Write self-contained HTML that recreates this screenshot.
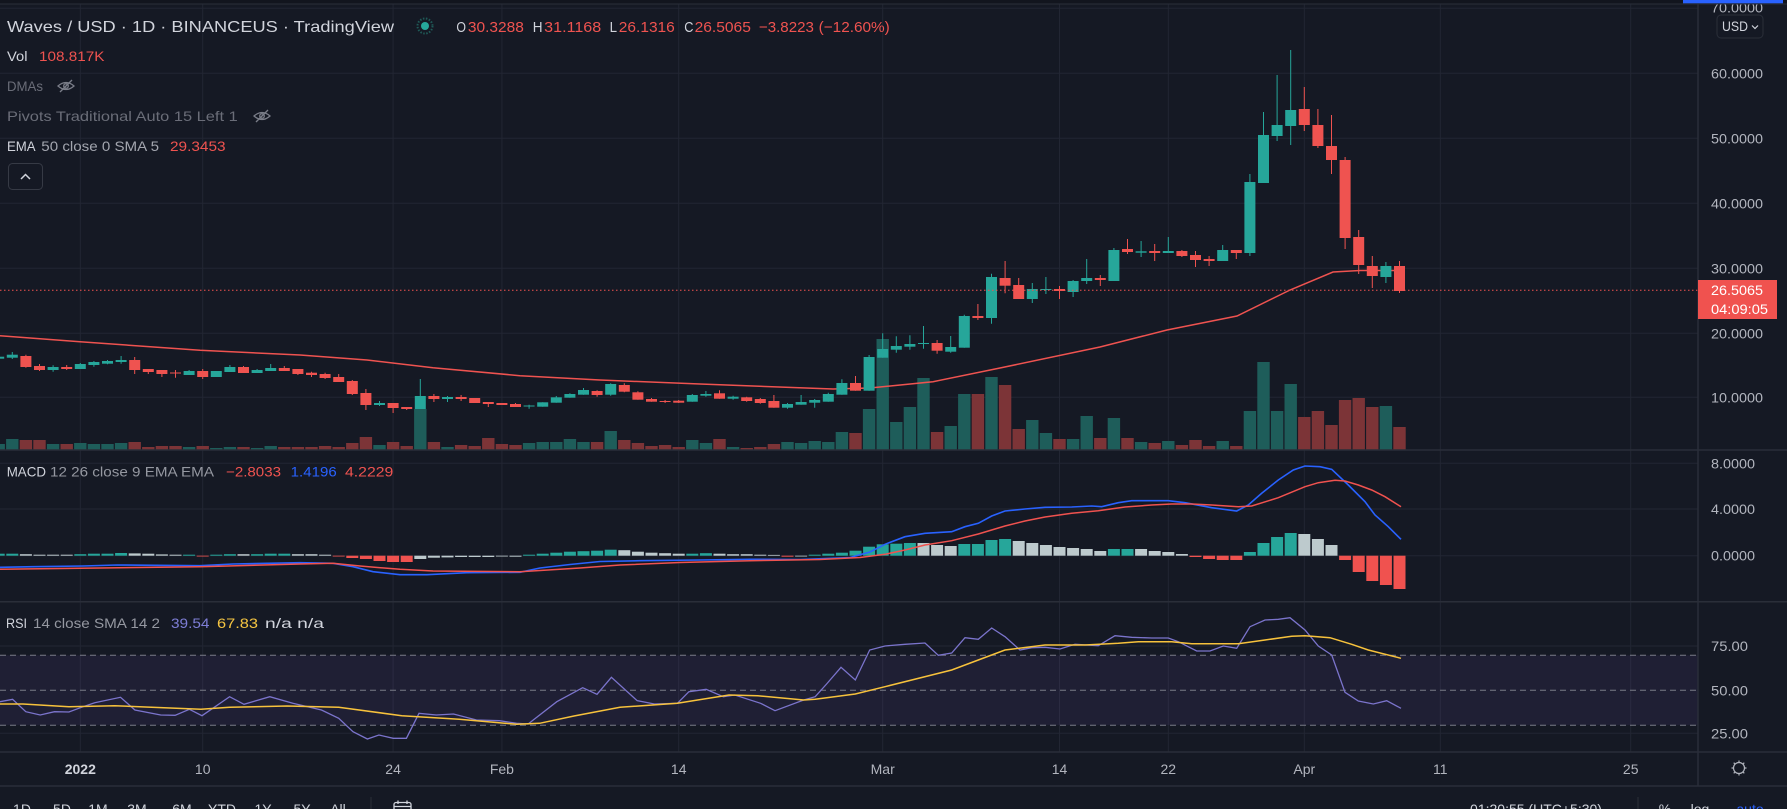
<!DOCTYPE html>
<html><head><meta charset="utf-8"><style>
html,body{margin:0;padding:0;background:#151924;overflow:hidden;}
svg{display:block;font-family:"Liberation Sans",sans-serif;}
</style></head><body>
<svg width="1787" height="809" viewBox="0 0 1787 809" xmlns="http://www.w3.org/2000/svg">
<rect x="0" y="0" width="1787" height="809" fill="#151924"/>
<!-- grid -->
<g stroke="#222633" stroke-width="1">
<path d="M0 8.3H1698M0 73.3H1698M0 138.3H1698M0 203.3H1698M0 268.3H1698M0 333.3H1698M0 397.3H1698M0 463.3H1698M0 509H1698M0 555.7H1698M0 646H1698M0 733.3H1698"/>
<path d="M80.3 4V752M202.7 4V752M393.1 4V752M501.9 4V752M678.7 4V752M882.7 4V752M1059.5 4V752M1168.3 4V752M1304.3 4V752M1440.3 4V752M1630.7 4V752"/>
</g>
<!-- RSI band -->
<rect x="0" y="655.3" width="1698" height="69.9" fill="#7e57c2" fill-opacity="0.1"/>
<g stroke="#787b86" stroke-width="1" stroke-dasharray="6 4" fill="none">
<path d="M0 655.3H1698M0 690.3H1698M0 725.2H1698"/>
</g>
<!-- volume -->
<g transform="translate(-1.3,0) scale(13.6,1) translate(-0.456,0)">
<g fill="#1e5d5a">
<rect x="0" y="444" width=".912" height="6"/><rect x="1" y="439" width=".912" height="11"/><rect x="4" y="444" width=".912" height="6"/><rect x="6" y="443" width=".912" height="7"/><rect x="7" y="444" width=".912" height="6"/><rect x="8" y="444" width=".912" height="6"/><rect x="9" y="443" width=".912" height="7"/><rect x="14" y="447" width=".912" height="3"/><rect x="16" y="448" width=".912" height="2"/><rect x="17" y="447" width=".912" height="3"/><rect x="19" y="448" width=".912" height="2"/><rect x="20" y="446" width=".912" height="4"/><rect x="28" y="445" width=".912" height="5"/><rect x="31" y="409" width=".912" height="41"/><rect x="33" y="447" width=".912" height="3"/><rect x="39" y="443" width=".912" height="7"/><rect x="40" y="442" width=".912" height="8"/><rect x="41" y="442" width=".912" height="8"/><rect x="42" y="439" width=".912" height="11"/><rect x="43" y="442" width=".912" height="8"/><rect x="45" y="431" width=".912" height="19"/><rect x="51" y="440" width=".912" height="10"/><rect x="52" y="443" width=".912" height="7"/><rect x="54" y="447" width=".912" height="3"/><rect x="58" y="442" width=".912" height="8"/><rect x="59" y="443" width=".912" height="7"/><rect x="60" y="441" width=".912" height="9"/><rect x="61" y="442" width=".912" height="8"/><rect x="62" y="432" width=".912" height="18"/><rect x="64" y="409" width=".912" height="41"/><rect x="65" y="339" width=".912" height="111"/><rect x="66" y="422" width=".912" height="28"/><rect x="67" y="407" width=".912" height="43"/><rect x="68" y="378" width=".912" height="72"/><rect x="70" y="426" width=".912" height="24"/><rect x="71" y="394" width=".912" height="56"/><rect x="73" y="377" width=".912" height="73"/><rect x="76" y="420" width=".912" height="30"/><rect x="77" y="433" width=".912" height="17"/><rect x="79" y="439" width=".912" height="11"/><rect x="80" y="416" width=".912" height="34"/><rect x="82" y="418" width=".912" height="32"/><rect x="84" y="442" width=".912" height="8"/><rect x="86" y="441" width=".912" height="9"/><rect x="90" y="441" width=".912" height="9"/><rect x="92" y="411" width=".912" height="39"/><rect x="93" y="362" width=".912" height="88"/><rect x="94" y="411" width=".912" height="39"/><rect x="95" y="384" width=".912" height="66"/><rect x="102" y="406" width=".912" height="44"/>
</g>
<g fill="#7c3437">
<rect x="2" y="440" width=".912" height="10"/><rect x="3" y="440" width=".912" height="10"/><rect x="5" y="444" width=".912" height="6"/><rect x="10" y="442" width=".912" height="8"/><rect x="11" y="447" width=".912" height="3"/><rect x="12" y="446" width=".912" height="4"/><rect x="13" y="446" width=".912" height="4"/><rect x="15" y="446" width=".912" height="4"/><rect x="18" y="447" width=".912" height="3"/><rect x="21" y="447" width=".912" height="3"/><rect x="22" y="447" width=".912" height="3"/><rect x="23" y="447" width=".912" height="3"/><rect x="24" y="446" width=".912" height="4"/><rect x="25" y="447" width=".912" height="3"/><rect x="26" y="443" width=".912" height="7"/><rect x="27" y="437" width=".912" height="13"/><rect x="29" y="442" width=".912" height="8"/><rect x="30" y="446" width=".912" height="4"/><rect x="32" y="442" width=".912" height="8"/><rect x="34" y="445" width=".912" height="5"/><rect x="35" y="446" width=".912" height="4"/><rect x="36" y="438" width=".912" height="12"/><rect x="37" y="444" width=".912" height="6"/><rect x="38" y="445" width=".912" height="5"/><rect x="44" y="442" width=".912" height="8"/><rect x="46" y="440" width=".912" height="10"/><rect x="47" y="443" width=".912" height="7"/><rect x="48" y="446" width=".912" height="4"/><rect x="49" y="445" width=".912" height="5"/><rect x="50" y="447" width=".912" height="3"/><rect x="53" y="439" width=".912" height="11"/><rect x="55" y="448" width=".912" height="2"/><rect x="56" y="447" width=".912" height="3"/><rect x="57" y="444" width=".912" height="6"/><rect x="63" y="433" width=".912" height="17"/><rect x="69" y="432" width=".912" height="18"/><rect x="72" y="394" width=".912" height="56"/><rect x="74" y="385" width=".912" height="65"/><rect x="75" y="429" width=".912" height="21"/><rect x="78" y="439" width=".912" height="11"/><rect x="81" y="438" width=".912" height="12"/><rect x="83" y="438" width=".912" height="12"/><rect x="85" y="443" width=".912" height="7"/><rect x="87" y="445" width=".912" height="5"/><rect x="88" y="440" width=".912" height="10"/><rect x="89" y="446" width=".912" height="4"/><rect x="91" y="446" width=".912" height="4"/><rect x="96" y="417" width=".912" height="33"/><rect x="97" y="411" width=".912" height="39"/><rect x="98" y="425" width=".912" height="25"/><rect x="99" y="400" width=".912" height="50"/><rect x="100" y="398" width=".912" height="52"/><rect x="101" y="407" width=".912" height="43"/><rect x="103" y="427" width=".912" height="23"/>
</g>
</g>
<!-- EMA -->
<polyline fill="none" stroke="#ef5350" stroke-width="1.5" points="0,335.7 80,341.7 200,350.3 300,355 367,360 433,367.7 520,375.7 600,380 700,384 833,389 870,388 933,381.7 1000,368 1100,347 1167,330 1237,316 1290,290 1333,272 1360,270.5 1405,270.5"/>
<!-- wicks -->
<g transform="translate(-1.3,0) scale(13.6,1)" fill="none" stroke-width="1">
<path vector-effect="non-scaling-stroke" stroke="#26a69a" d="M0 356V359M1 352V359M4 365.3V371.7M6 363V369M7 361V366.7M8 360V364.3M9 356V363.7M14 370V375M16 371V377M17 365V372M19 369V373M20 364V371M28 401V406M31 379V409M33 396V402M39 404.7V408.7M40 402.3V406.7M41 396V402.7M42 393.3V397.7M43 388V394.7M45 383.3V395.7M51 394V401.7M52 391V396.7M54 395.7V399.7M58 403V408.7M59 395V404.7M60 399V407.7M61 392.7V401.7M62 379.3V394.7M64 355V390.7M65 333.3V357.7M66 336.3V352.7M67 335.3V349.7M68 326V348.7M70 336V352.7M71 314.7V347.7M73 273.7V323.7M76 283V303M77 277V294M79 280V297M80 259V284M82 248V281M84 241V257M86 237V253M90 245V261M92 174V256M93 112V183M94 75V141M95 50V145M102 262V283"/>
<path vector-effect="non-scaling-stroke" stroke="#ef5350" d="M2 354.7V367.7M3 364V371M5 365V370M10 357V374M11 369V374M12 370V377M13 370V377.7M15 369V379M18 366V373M21 366V371M22 369V375M23 371.7V377M24 372.7V379M25 374V382M26 380V395M27 389V410M29 403V413M30 407V410M32 394V402M34 395V401M35 398V403M36 402V407M37 403V405M38 403V407M44 390.3V396.7M46 383.3V392.3M47 391.3V399.7M48 398V401.7M49 400V403M50 400V403M53 390.3V398.7M55 396.7V401.7M56 398V403.7M57 395V407.7M63 376V390.7M69 340V353.7M72 304V320M74 261V293.3M75 278V299M78 286V299M81 275V286M83 239V254M85 244V261M87 250V257M88 251V267M89 256V266M91 250V259M96 87V131M97 109V148M98 115V174M99 157V249M100 230V274M101 256V288M103 261V293"/>
</g>
<!-- bodies -->
<g transform="translate(-1.3,0) scale(13.6,1) translate(-0.4045,0)">
<g fill="#26a69a">
<rect x="0" y="356.7" width=".809" height="2"/><rect x="1" y="354.7" width=".809" height="3"/><rect x="4" y="367" width=".809" height="3"/><rect x="6" y="364" width=".809" height="5"/><rect x="7" y="362" width=".809" height="3"/><rect x="8" y="361" width=".809" height="2.7"/><rect x="9" y="360" width=".809" height="2"/><rect x="14" y="371" width=".809" height="4"/><rect x="16" y="371" width=".809" height="6"/><rect x="17" y="367" width=".809" height="5"/><rect x="19" y="370" width=".809" height="3"/><rect x="20" y="368" width=".809" height="3"/><rect x="28" y="403" width=".809" height="2"/><rect x="31" y="396" width=".809" height="13"/><rect x="33" y="397" width=".809" height="2"/><rect x="39" y="405.5" width=".809" height="1"/><rect x="40" y="402.3" width=".809" height="4.4"/><rect x="41" y="397.3" width=".809" height="5.4"/><rect x="42" y="394" width=".809" height="3.7"/><rect x="43" y="390" width=".809" height="4.7"/><rect x="45" y="384" width=".809" height="10.7"/><rect x="51" y="395" width=".809" height="6.7"/><rect x="52" y="394" width=".809" height="1.7"/><rect x="54" y="396.7" width=".809" height="2"/><rect x="58" y="404" width=".809" height="3.7"/><rect x="59" y="402" width=".809" height="2.7"/><rect x="60" y="400" width=".809" height="2.7"/><rect x="61" y="394" width=".809" height="7.7"/><rect x="62" y="383" width=".809" height="11.7"/><rect x="64" y="357" width=".809" height="33.7"/><rect x="65" y="349" width=".809" height="8.7"/><rect x="66" y="346" width=".809" height="3.7"/><rect x="67" y="344" width=".809" height="2.7"/><rect x="68" y="343" width=".809" height="1"/><rect x="70" y="347" width=".809" height="4.7"/><rect x="71" y="316" width=".809" height="31.7"/><rect x="73" y="277" width=".809" height="41"/><rect x="76" y="289" width=".809" height="10"/><rect x="77" y="289" width=".809" height="1"/><rect x="79" y="281" width=".809" height="11"/><rect x="80" y="278" width=".809" height="3"/><rect x="82" y="250" width=".809" height="31"/><rect x="84" y="251.3" width=".809" height="1.4"/><rect x="86" y="251" width=".809" height="2"/><rect x="90" y="250" width=".809" height="11"/><rect x="92" y="182" width=".809" height="71"/><rect x="93" y="135" width=".809" height="48"/><rect x="94" y="125" width=".809" height="11"/><rect x="95" y="110" width=".809" height="16"/><rect x="102" y="266" width=".809" height="11"/>
</g>
<g fill="#ef5350">
<rect x="2" y="356" width=".809" height="11"/><rect x="3" y="366" width=".809" height="4"/><rect x="5" y="367" width=".809" height="2"/><rect x="10" y="360" width=".809" height="10"/><rect x="11" y="369" width=".809" height="3"/><rect x="12" y="370" width=".809" height="4"/><rect x="13" y="372.5" width=".809" height="1"/><rect x="15" y="371" width=".809" height="6"/><rect x="18" y="367" width=".809" height="6"/><rect x="21" y="368" width=".809" height="3"/><rect x="22" y="369" width=".809" height="5"/><rect x="23" y="372.7" width=".809" height="2.3"/><rect x="24" y="374" width=".809" height="4"/><rect x="25" y="377" width=".809" height="5"/><rect x="26" y="381" width=".809" height="13"/><rect x="27" y="393" width=".809" height="12"/><rect x="29" y="403" width=".809" height="5"/><rect x="30" y="407" width=".809" height="2"/><rect x="32" y="396" width=".809" height="3"/><rect x="34" y="397" width=".809" height="2"/><rect x="35" y="398" width=".809" height="5"/><rect x="36" y="402" width=".809" height="2"/><rect x="37" y="403" width=".809" height="2"/><rect x="38" y="404" width=".809" height="3"/><rect x="44" y="391" width=".809" height="4"/><rect x="46" y="385" width=".809" height="6.7"/><rect x="47" y="392.3" width=".809" height="7.4"/><rect x="48" y="399" width=".809" height="2.7"/><rect x="49" y="401" width=".809" height="1"/><rect x="50" y="400.7" width=".809" height="2"/><rect x="53" y="393.3" width=".809" height="5.4"/><rect x="55" y="397.3" width=".809" height="3.7"/><rect x="56" y="399" width=".809" height="4"/><rect x="57" y="401" width=".809" height="6.7"/><rect x="63" y="383" width=".809" height="7.7"/><rect x="69" y="343" width=".809" height="7.7"/><rect x="72" y="316" width=".809" height="2"/><rect x="74" y="278" width=".809" height="7.7"/><rect x="75" y="285" width=".809" height="14"/><rect x="78" y="289" width=".809" height="2"/><rect x="81" y="278" width=".809" height="2"/><rect x="83" y="249" width=".809" height="3"/><rect x="85" y="251" width=".809" height="2"/><rect x="87" y="251" width=".809" height="5"/><rect x="88" y="255" width=".809" height="5"/><rect x="89" y="259" width=".809" height="2"/><rect x="91" y="250" width=".809" height="3"/><rect x="96" y="109" width=".809" height="16"/><rect x="97" y="125" width=".809" height="21"/><rect x="98" y="146" width=".809" height="14"/><rect x="99" y="160" width=".809" height="78"/><rect x="100" y="237" width=".809" height="28"/><rect x="101" y="266" width=".809" height="10"/><rect x="103" y="266" width=".809" height="25"/>
</g>
</g>
<!-- price line -->
<path d="M0 290.3H1698" stroke="#ef5350" stroke-width="1" stroke-dasharray="1.5 2.5"/>
<!-- MACD histogram -->
<g transform="translate(-1.3,0) scale(13.6,1) translate(-0.441,0)">
<g fill="#26a69a">
<rect x="0" y="553.7" width=".882" height="2"/><rect x="1" y="553.7" width=".882" height="2"/><rect x="6" y="554.2" width=".882" height="1.5"/><rect x="7" y="553.7" width=".882" height="2"/><rect x="8" y="553.7" width=".882" height="2"/><rect x="9" y="553" width=".882" height="2.7"/><rect x="14" y="554.7" width=".882" height="1"/><rect x="16" y="554.7" width=".882" height="1"/><rect x="17" y="554.2" width=".882" height="1.5"/><rect x="19" y="554.2" width=".882" height="1.5"/><rect x="20" y="553.7" width=".882" height="2"/><rect x="21" y="553.7" width=".882" height="2"/><rect x="39" y="554.7" width=".882" height="1"/><rect x="40" y="553.7" width=".882" height="2"/><rect x="41" y="552.7" width=".882" height="3"/><rect x="42" y="551.7" width=".882" height="4"/><rect x="43" y="551.2" width=".882" height="4.5"/><rect x="44" y="550.7" width=".882" height="5"/><rect x="45" y="549.7" width=".882" height="6"/><rect x="51" y="553.7" width=".882" height="2"/><rect x="52" y="553.2" width=".882" height="2.5"/><rect x="60" y="554.7" width=".882" height="1"/><rect x="61" y="553.7" width=".882" height="2"/><rect x="62" y="552.7" width=".882" height="3"/><rect x="63" y="550.7" width=".882" height="5"/><rect x="64" y="546.7" width=".882" height="9"/><rect x="65" y="544.3" width=".882" height="11.4"/><rect x="66" y="543.7" width=".882" height="12"/><rect x="67" y="543" width=".882" height="12.7"/><rect x="71" y="544" width=".882" height="11.7"/><rect x="72" y="544" width=".882" height="11.7"/><rect x="73" y="540" width=".882" height="15.7"/><rect x="74" y="539" width=".882" height="16.7"/><rect x="82" y="549" width=".882" height="6.7"/><rect x="83" y="549" width=".882" height="6.7"/><rect x="92" y="552" width=".882" height="3.7"/><rect x="93" y="543" width=".882" height="12.7"/><rect x="94" y="537" width=".882" height="18.7"/><rect x="95" y="533" width=".882" height="22.7"/>
</g>
<g fill="#bdcacd">
<rect x="2" y="554.2" width=".882" height="1.5"/><rect x="3" y="554.7" width=".882" height="1"/><rect x="4" y="554.7" width=".882" height="1"/><rect x="5" y="554.7" width=".882" height="1"/><rect x="10" y="553.4" width=".882" height="2.3"/><rect x="11" y="553.7" width=".882" height="2"/><rect x="12" y="554.4" width=".882" height="1.3"/><rect x="13" y="554.7" width=".882" height="1"/><rect x="18" y="554.2" width=".882" height="1.5"/><rect x="22" y="554.2" width=".882" height="1.5"/><rect x="23" y="554.2" width=".882" height="1.5"/><rect x="24" y="554.7" width=".882" height="1"/><rect x="46" y="550.2" width=".882" height="5.5"/><rect x="47" y="551.7" width=".882" height="4"/><rect x="48" y="552.7" width=".882" height="3"/><rect x="49" y="553.2" width=".882" height="2.5"/><rect x="50" y="553.7" width=".882" height="2"/><rect x="53" y="553.7" width=".882" height="2"/><rect x="54" y="554.2" width=".882" height="1.5"/><rect x="55" y="554.2" width=".882" height="1.5"/><rect x="56" y="554.7" width=".882" height="1"/><rect x="57" y="554.9" width=".882" height=".8"/><rect x="68" y="543" width=".882" height="12.7"/><rect x="69" y="545" width=".882" height="10.7"/><rect x="70" y="546" width=".882" height="9.7"/><rect x="75" y="541" width=".882" height="14.7"/><rect x="76" y="543" width=".882" height="12.7"/><rect x="77" y="545" width=".882" height="10.7"/><rect x="78" y="547" width=".882" height="8.7"/><rect x="79" y="548" width=".882" height="7.7"/><rect x="80" y="549" width=".882" height="6.7"/><rect x="81" y="551" width=".882" height="4.7"/><rect x="84" y="549" width=".882" height="6.7"/><rect x="85" y="551" width=".882" height="4.7"/><rect x="86" y="552" width=".882" height="3.7"/><rect x="87" y="554" width=".882" height="1.7"/><rect x="96" y="534" width=".882" height="21.7"/><rect x="97" y="539" width=".882" height="16.7"/><rect x="98" y="545" width=".882" height="10.7"/>
<rect x="31" y="555.7" width=".882" height="3.3"/><rect x="32" y="555.7" width=".882" height="2"/><rect x="33" y="555.7" width=".882" height="1.7"/><rect x="34" y="555.7" width=".882" height="1.3"/><rect x="35" y="555.7" width=".882" height="1.3"/><rect x="36" y="555.7" width=".882" height="1.3"/><rect x="37" y="555.7" width=".882" height=".8"/><rect x="38" y="555.7" width=".882" height="1"/><rect x="59" y="555.7" width=".882" height=".8"/>
</g>
<g fill="#f0524f">
<rect x="15" y="555.7" width=".882" height=".8"/><rect x="25" y="555.7" width=".882" height=".8"/><rect x="26" y="555.7" width=".882" height="2.3"/><rect x="27" y="555.7" width=".882" height="3.3"/><rect x="28" y="555.7" width=".882" height="5.3"/><rect x="29" y="555.7" width=".882" height="6.3"/><rect x="30" y="555.7" width=".882" height="6.3"/><rect x="58" y="555.7" width=".882" height="1"/><rect x="88" y="555.7" width=".882" height="1.3"/><rect x="89" y="555.7" width=".882" height="3.3"/><rect x="90" y="555.7" width=".882" height="4.3"/><rect x="91" y="555.7" width=".882" height="4.3"/><rect x="99" y="555.7" width=".882" height="4.3"/><rect x="100" y="555.7" width=".882" height="16.3"/><rect x="101" y="555.7" width=".882" height="25.3"/><rect x="102" y="555.7" width=".882" height="29.3"/><rect x="103" y="555.7" width=".882" height="33.3"/>
</g>
</g>
<!-- MACD lines -->
<polyline fill="none" stroke="#2962ff" stroke-width="1.6" points="0,567.3 33,566.7 83,566 117,565 200,565.7 233,564 300,562.7 333,563.3 353,566.7 373,571.7 400,574.7 427,574.7 467,572.7 520,572.3 540,568 570,564.5 600,561.5 640,560.7 700,560 750,559.3 800,559.5 850,557.5 870,552 885,544.3 905,536.7 925,533.3 951.7,531.7 965,526.7 978.3,523.3 991.7,516 1005,511 1025,509 1045,507.3 1071.7,507 1091.7,506 1101.7,506.7 1118.3,502.7 1131.7,500.7 1151.7,500.7 1168.3,500.7 1185,502.7 1211.7,507.7 1236.7,511 1248.3,505 1261.7,493.3 1278.3,480 1293.3,470 1305,466 1320,466.7 1331.7,469.3 1348.3,485 1365,501.7 1375,515 1388.3,526.7 1401,539.3"/>
<polyline fill="none" stroke="#f0524f" stroke-width="1.5" points="0,569.3 100,568 200,566.7 300,564 333,563.3 360,566 400,569.3 433,571 520,571.7 540,570.5 580,568 620,565 680,562.5 750,560.7 820,559.5 860,557.5 885,554.3 905,550 925,545 951.7,540.7 978.3,534 1005,526 1025,521 1045,517 1071.7,513.3 1098.3,510.7 1125,507 1151.7,505 1171.7,504 1191.7,504 1211.7,505 1238.3,506.7 1251.7,506 1278.3,497.7 1305,486.7 1318.3,482.7 1335,480.3 1345,481 1358.3,485 1371.7,490 1385,496.7 1401,506.7"/>
<!-- RSI lines -->
<polyline fill="none" stroke="#7b74cc" stroke-width="1.3" points="0,701.7 12.6,699.3 25.8,711.7 40.2,715 54.5,711.7 68.9,712 83.2,706.7 94.7,702.7 120.5,697.3 134.9,710 160.7,715 175.1,715.3 189.4,709.3 202,715.7 229.6,696.7 244,704.3 269.8,696.7 292.8,703.3 321.5,710 338.7,718.3 353,731.7 367.4,739 378.9,735 393.2,738.3 406.4,738.3 419,713.3 436.3,715 453.5,714 476.5,720 499.4,720.7 516.6,723.3 528.1,724 556.8,701.7 582.7,687.7 597,694.3 611.4,677.3 637.2,700.7 654.4,704 677.4,703.3 688.9,691.7 706.1,689.3 723.3,696.7 734.8,695 760.6,703.3 775,710.7 803.7,700 815.2,696.7 826.6,684 841,667.3 855.3,680 869.7,650 885,646 905,644.3 925,643 938.3,655.3 951.7,653 965,637.7 978.3,639.3 991.7,628 1005,636.7 1020,650 1031.7,647.7 1045,647.3 1060,649 1075,644.3 1098.3,645.7 1115,635.7 1131.7,637.3 1151.7,638 1168.3,638 1178.3,641.7 1196.7,651 1210,651 1223.3,646 1236.7,648.3 1250,626.7 1265,620 1278.3,619.3 1290,617.7 1305,630 1318.3,646 1331.7,655 1345,692.3 1358.3,701 1373.3,704 1386.7,700.7 1401,708.3"/>
<polyline fill="none" stroke="#f7c23c" stroke-width="1.5" points="0,704 23,704 68.9,706.7 114.8,705.7 200.9,709.3 229.6,707.3 287,706 338.7,707.3 401.8,715.7 459.2,719.3 516.6,724.3 539.6,723.3 574,716 620,707.3 677.4,703.3 729,695 757.7,695.7 803.7,700 815.2,699.3 855.3,694 885,686.7 951.7,670 978.3,660 1005,650 1045,645 1085,645 1118.3,643.3 1138.3,641.7 1171.7,641.7 1191.7,643.7 1238.3,643.7 1265,640 1291.7,636.3 1305,635.7 1330,637.7 1351.7,644.3 1368.3,650 1401,658.3"/>
<!-- separators -->
<g stroke="#2a2e39" stroke-width="1.5">
<path d="M0 450H1787M0 601.7H1787M0 752H1787M0 786H1787M1698 4V786"/>
</g>
<!-- price axis labels -->
<g font-size="14" fill="#b2b5be">
<text x="1711" y="12.5" textLength="52" lengthAdjust="spacingAndGlyphs">70.0000</text>
<text x="1711" y="78.3" textLength="52" lengthAdjust="spacingAndGlyphs">60.0000</text>
<text x="1711" y="143.3" textLength="52" lengthAdjust="spacingAndGlyphs">50.0000</text>
<text x="1711" y="208.3" textLength="52" lengthAdjust="spacingAndGlyphs">40.0000</text>
<text x="1711" y="273.3" textLength="52" lengthAdjust="spacingAndGlyphs">30.0000</text>
<text x="1711" y="338.3" textLength="52" lengthAdjust="spacingAndGlyphs">20.0000</text>
<text x="1711" y="402.3" textLength="52" lengthAdjust="spacingAndGlyphs">10.0000</text>
<text x="1711" y="468.3" textLength="44" lengthAdjust="spacingAndGlyphs">8.0000</text>
<text x="1711" y="514" textLength="44" lengthAdjust="spacingAndGlyphs">4.0000</text>
<text x="1711" y="560.7" textLength="44" lengthAdjust="spacingAndGlyphs">0.0000</text>
<text x="1711" y="651" textLength="37" lengthAdjust="spacingAndGlyphs">75.00</text>
<text x="1711" y="695.3" textLength="37" lengthAdjust="spacingAndGlyphs">50.00</text>
<text x="1711" y="738.3" textLength="37" lengthAdjust="spacingAndGlyphs">25.00</text>
</g>
<!-- current price label -->
<rect x="1698" y="280" width="79" height="39" fill="#f0524f"/>
<text x="1711" y="295" font-size="14" fill="#ffffff" textLength="52" lengthAdjust="spacingAndGlyphs">26.5065</text>
<text x="1711" y="314" font-size="14" fill="#ffffff" textLength="57" lengthAdjust="spacingAndGlyphs">04:09:05</text>
<!-- USD button -->
<rect x="1717" y="15" width="46" height="23" rx="4" fill="#151924" stroke="#2a2e39" stroke-width="1"/>
<text x="1722" y="31" font-size="14" fill="#d1d4dc" textLength="26" lengthAdjust="spacingAndGlyphs">USD</text>
<path d="M1752 25.5L1755 28.5L1758 25.5" fill="none" stroke="#d1d4dc" stroke-width="1.2"/>
<!-- top strip -->
<rect x="0" y="0" width="1787" height="3.5" fill="#12151e"/>
<path d="M0 4H1787" stroke="#2a2e39" stroke-width="1"/>
<rect x="1683" y="0" width="100" height="3.3" fill="#2962ff"/>
<!-- header legend -->
<text x="7" y="32" font-size="16" fill="#d1d4dc" textLength="387" lengthAdjust="spacingAndGlyphs">Waves / USD · 1D · BINANCEUS · TradingView</text>
<circle cx="425" cy="26" r="7.5" fill="none" stroke="#1f5a57" stroke-width="2" stroke-dasharray="1.5 1.5"/>
<circle cx="425" cy="26" r="4" fill="#26a69a"/>
<g font-size="15">
<text x="456.4" y="32" fill="#d1d4dc" textLength="9.6" lengthAdjust="spacingAndGlyphs">O</text>
<text x="467.9" y="32" fill="#ef5350" textLength="56" lengthAdjust="spacingAndGlyphs">30.3288</text>
<text x="532.7" y="32" fill="#d1d4dc" textLength="9.8" lengthAdjust="spacingAndGlyphs">H</text>
<text x="544.2" y="32" fill="#ef5350" textLength="57" lengthAdjust="spacingAndGlyphs">31.1168</text>
<text x="609.6" y="32" fill="#d1d4dc" textLength="7.4" lengthAdjust="spacingAndGlyphs">L</text>
<text x="618.8" y="32" fill="#ef5350" textLength="56" lengthAdjust="spacingAndGlyphs">26.1316</text>
<text x="684.3" y="32" fill="#d1d4dc" textLength="9.2" lengthAdjust="spacingAndGlyphs">C</text>
<text x="694.6" y="32" fill="#ef5350" textLength="56.3" lengthAdjust="spacingAndGlyphs">26.5065</text>
<text x="758.9" y="32" fill="#ef5350" textLength="55" lengthAdjust="spacingAndGlyphs">−3.8223</text>
<text x="818.6" y="32" fill="#ef5350" textLength="71.2" lengthAdjust="spacingAndGlyphs">(−12.60%)</text>
</g>
<g font-size="14">
<text x="7" y="61" fill="#d1d4dc" textLength="20.5" lengthAdjust="spacingAndGlyphs">Vol</text>
<text x="39" y="61" fill="#ef5350" textLength="65.5" lengthAdjust="spacingAndGlyphs">108.817K</text>
<text x="7" y="91" fill="#6a6d78" textLength="36" lengthAdjust="spacingAndGlyphs">DMAs</text>
<text x="7" y="121" fill="#6a6d78" textLength="230.7" lengthAdjust="spacingAndGlyphs">Pivots Traditional Auto 15 Left 1</text>
<text x="7" y="151" fill="#d1d4dc" textLength="28.6" lengthAdjust="spacingAndGlyphs">EMA</text>
<text x="41.3" y="151" fill="#a3a6af" textLength="117.7" lengthAdjust="spacingAndGlyphs">50 close 0 SMA 5</text>
<text x="170" y="151" fill="#ef5350" textLength="55.6" lengthAdjust="spacingAndGlyphs">29.3453</text>
</g>
<g fill="none" stroke="#7a7d88" stroke-width="1.3">
<path d="M58 86Q66 79 74 86Q66 93 58 86Z"/><circle cx="66" cy="86" r="2.3"/><path d="M60 92L72 80"/>
<path d="M254 116Q262 109 270 116Q262 123 254 116Z"/><circle cx="262" cy="116" r="2.3"/><path d="M256 122L268 110"/>
</g>
<rect x="8.5" y="163.5" width="34" height="26" rx="4" fill="none" stroke="#363a45" stroke-width="1"/>
<path d="M21 179L25.5 174.5L30 179" fill="none" stroke="#d1d4dc" stroke-width="1.5"/>
<!-- MACD legend -->
<g font-size="14">
<text x="6.7" y="476.7" fill="#d1d4dc" textLength="39.3" lengthAdjust="spacingAndGlyphs">MACD</text>
<text x="50" y="476.7" fill="#9598a1" textLength="164" lengthAdjust="spacingAndGlyphs">12 26 close 9 EMA EMA</text>
<text x="226" y="476.7" fill="#ef5350" textLength="55" lengthAdjust="spacingAndGlyphs">−2.8033</text>
<text x="290.7" y="476.7" fill="#2962ff" textLength="46" lengthAdjust="spacingAndGlyphs">1.4196</text>
<text x="345" y="476.7" fill="#ef5350" textLength="48.3" lengthAdjust="spacingAndGlyphs">4.2229</text>
<text x="6" y="628" fill="#d1d4dc" textLength="21" lengthAdjust="spacingAndGlyphs">RSI</text>
<text x="33" y="628" fill="#9598a1" textLength="127" lengthAdjust="spacingAndGlyphs">14 close SMA 14 2</text>
<text x="171" y="628" fill="#7e7ed6" textLength="38.5" lengthAdjust="spacingAndGlyphs">39.54</text>
<text x="217" y="628" fill="#f5c542" textLength="41" lengthAdjust="spacingAndGlyphs">67.83</text>
<text x="265" y="628" fill="#d1d4dc" textLength="59" lengthAdjust="spacingAndGlyphs">n/a n/a</text>
</g>
<!-- time axis -->
<g font-size="14" fill="#b2b5be" text-anchor="middle">
<text x="80.3" y="774" font-weight="bold" fill="#d1d4dc">2022</text>
<text x="202.7" y="774">10</text>
<text x="393.1" y="774">24</text>
<text x="501.9" y="774">Feb</text>
<text x="678.7" y="774">14</text>
<text x="882.7" y="774">Mar</text>
<text x="1059.5" y="774">14</text>
<text x="1168.3" y="774">22</text>
<text x="1304.3" y="774">Apr</text>
<text x="1440.3" y="774">11</text>
<text x="1630.7" y="774">25</text>
</g>
<g fill="none" stroke="#b2b5be" stroke-width="1.2">
<circle cx="1739" cy="768" r="5.5"/>
<path d="M1739 760.5V762M1739 774V775.5M1731.5 768H1733M1745 768H1746.5M1733.7 762.7L1734.8 763.8M1743.2 772.2L1744.3 773.3M1744.3 762.7L1743.2 763.8M1734.8 772.2L1733.7 773.3"/>
</g>
<!-- bottom toolbar -->
<g font-size="14" fill="#d1d4dc" text-anchor="middle">
<text x="22" y="814">1D</text>
<text x="62" y="814">5D</text>
<text x="98" y="814">1M</text>
<text x="137" y="814">3M</text>
<text x="182" y="814">6M</text>
<text x="222" y="814">YTD</text>
<text x="263" y="814">1Y</text>
<text x="302" y="814">5Y</text>
<text x="338" y="814">All</text>
<text x="1536" y="814">01:20:55 (UTC+5:30)</text>
<text x="1665" y="814">%</text>
<text x="1700" y="814">log</text>
<text x="1750" y="814" fill="#2962ff">auto</text>
</g>
<path d="M371 797V809M1638 797V809" stroke="#2a2e39" stroke-width="1"/>
<rect x="394" y="802.5" width="17" height="14" rx="2" fill="none" stroke="#d1d4dc" stroke-width="1.3"/>
<path d="M394 806.5H411M398 800.5V804M407 800.5V804" stroke="#d1d4dc" stroke-width="1.3"/>
</svg>
</body></html>
